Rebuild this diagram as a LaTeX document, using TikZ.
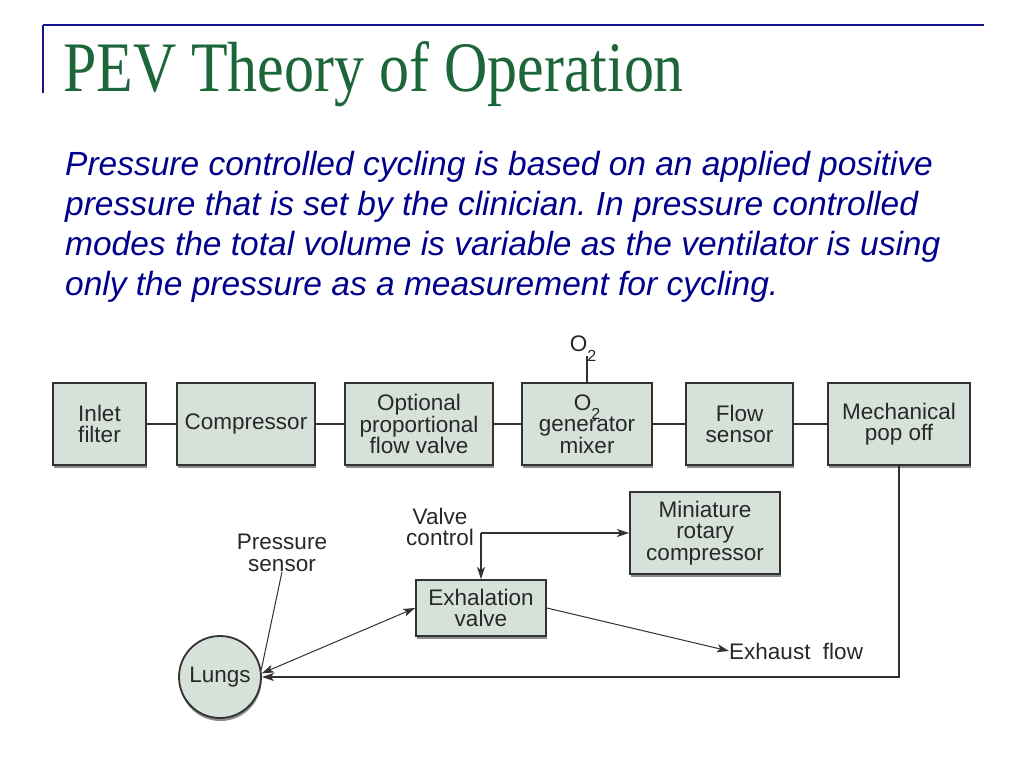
\documentclass[tikz,border=0pt]{standalone}
\usepackage{fontspec}
\setmainfont{Liberation Serif}
\newfontfamily\arialf{Liberation Sans}
\usetikzlibrary{arrows.meta,shadows,calc}
\definecolor{titlegreen}{RGB}{28,102,58}
\definecolor{navyblue}{RGB}{0,0,140}
\definecolor{rulecol}{RGB}{20,20,140}
\definecolor{boxfill}{RGB}{214,225,218}
\definecolor{edgecol}{RGB}{50,50,50}
\definecolor{inkcol}{RGB}{40,40,40}
\newcommand\diagfont{\arialf\fontsize{22.5}{21.5}\selectfont}
\newcommand\parafont{\arialf\itshape\fontsize{33.5}{40}\selectfont}
\frenchspacing
\begin{document}
\begin{tikzpicture}[x=1pt,y=-1pt,
  box/.style={draw=edgecol, line width=1.8pt, fill=boxfill, inner sep=0pt,
    align=center, font=\diagfont, text=inkcol,
    drop shadow={shadow xshift=0.5pt, shadow yshift=-3pt, fill=black, opacity=0.45}},
  lab/.style={inner sep=0pt, align=center, font=\diagfont, text=inkcol},
  conn/.style={draw=edgecol, line width=1.4pt},
  thinconn/.style={draw=edgecol, line width=1pt},
  tip/.style={Stealth[length=12pt,width=8pt,inset=3pt]},
  arr/.style={conn, -{Stealth[length=12pt,width=8pt,inset=3pt]}},
  para/.style={anchor=base west, inner sep=0pt, font=\parafont, text=navyblue}]
\useasboundingbox[fill=white] (0,0) rectangle (1024,768);

% title rules
\coordinate (rl) at (43,25);
\coordinate (rr) at (984,25);
\coordinate (rb) at (43,93);
\draw[rulecol, line width=2.6pt] (rl) -- (rr);
\draw[rulecol, line width=1.5pt] (rl) -- (rb);

% title
\node[anchor=base west, inner sep=0pt, text=titlegreen] (title) at (63,91)
  {\scalebox{0.844}[1]{\fontsize{71}{71}\selectfont PEV Theory of Operation}};

% paragraph
\node[para] (p1) at (65,175) {Pressure controlled cycling is based on an applied positive};
\node[para] (p2) at (65,215) {pressure that is set by the clinician. In pressure controlled};
\node[para] (p3) at (65,255) {modes the total volume is variable as the ventilator is using};
\node[para] (p4) at (65,295) {only the pressure as a measurement for cycling.};

% top row
\node[box, minimum width=93, minimum height=82] (inlet) at (99.5,424) {Inlet\\filter};
\node[box, minimum width=138, minimum height=82] (comp) at (246,424) {Compressor};
\node[box, minimum width=148, minimum height=82] (opt) at (419,424) {Optional\\proportional\\flow valve};
\node[box, minimum width=130, minimum height=82] (mix) at (587,424)
  {O\smash{\raisebox{-0.42em}{\fontsize{16}{16}\selectfont 2}}\\generator\\mixer};
\node[box, minimum width=107, minimum height=82] (flow) at (739.5,424) {Flow\\sensor};
\node[box, minimum width=142, minimum height=82] (pop) at (899,424) {Mechanical\\pop off};

\draw[conn] (inlet) -- (comp);
\draw[conn] (comp) -- (opt);
\draw[conn] (opt) -- (mix);
\draw[conn] (mix) -- (flow);
\draw[conn] (flow) -- (pop);

% O2 input
\coordinate (o2top) at (587,356);
\node[lab, anchor=south] (o2lab) at (583,352) {O\smash{\raisebox{-0.42em}{\fontsize{16}{16}\selectfont 2}}};
\draw[conn] (mix.north) -- (o2top);

% lower part
\node[box, circle, minimum size=82] (lungs) at (220,677) {Lungs};
\node[box, minimum width=130, minimum height=56] (exh) at (481,608) {Exhalation\\valve};
\node[box, minimum width=150, minimum height=82] (mini) at (705,533) {Miniature\\rotary\\compressor};

\node[lab] (ps) at (282,553) {Pressure\\sensor};
\node[lab] (vclab) at (440,527) {Valve\\control};
\node[lab, anchor=west] (exhaust) at (729,651) {Exhaust~~flow};

\coordinate (vc) at (481,533);
\draw[arr] (vc) -- (exh.north);
\draw[arr] (vc) -- (mini.west);

\draw[thinconn] (ps.south) -- (lungs.10);
\draw[thinconn, {Stealth[length=12pt,width=8pt,inset=3pt]}-{Stealth[length=12pt,width=8pt,inset=3pt]}] (lungs.5) -- (exh.west);
\draw[thinconn, -{Stealth[length=12pt,width=8pt,inset=3pt]}] (exh.east) -- (exhaust.west);
\draw[arr] (pop.south) |- (lungs.east);
\end{tikzpicture}
\end{document}
